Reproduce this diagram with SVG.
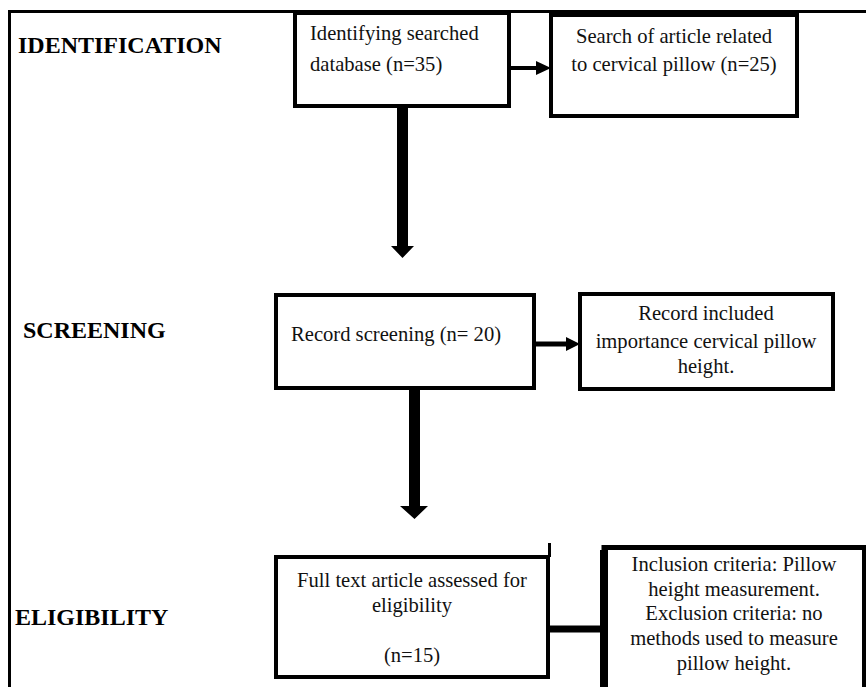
<svg xmlns="http://www.w3.org/2000/svg" width="866" height="687" viewBox="0 0 866 687">
<style>
.box{fill:#fff;stroke:#000;stroke-width:4}
.t{font-family:"Liberation Serif","Times New Roman",serif;font-size:20.6px;fill:#111}
.c{text-anchor:middle}
.h{font-family:"Liberation Serif","Times New Roman",serif;font-size:24px;font-weight:bold;fill:#000}
.ln{stroke:#000;fill:none}
</style>
<rect width="866" height="687" fill="#fff"/>
<path class="ln" d="M9.5,687 V11.5 H866" stroke-width="3"/>
<text class="h" x="18" y="53">IDENTIFICATION</text>
<text class="h" x="23" y="338">SCREENING</text>
<text class="h" x="15" y="625">ELIGIBILITY</text>
<g id="connectors">
<path d="M397,107 H408 V246 H414 L402.5,258 L391,246 H397 Z" fill="#000"/>
<path d="M409,388 H420 V506 H428 L414.5,519 L400,506 H409 Z" fill="#000"/>
<path class="ln" d="M509,68 H538" stroke-width="4"/>
<polygon points="536,61 551,68 536,75" fill="#000"/>
<path class="ln" d="M536,344 H568" stroke-width="5"/>
<polygon points="566,337 580,344 566,351" fill="#000"/>
<path class="ln" d="M548,629 H604" stroke-width="7"/>
<path class="ln" d="M549.5,543 V557" stroke-width="3"/>
</g>
<g id="n1">
<rect class="box" x="295" y="13" width="214" height="93"/>
<text class="t" x="310" y="40">Identifying searched</text>
<text class="t" x="310" y="71">database (n=35)</text>
</g>
<g id="n2">
<rect class="box" x="551" y="15" width="246" height="101"/>
<text class="t c" x="674" y="43">Search of article related</text>
<text class="t c" x="674" y="71">to cervical pillow (n=25)</text>
</g>
<g id="n3">
<rect class="box" x="276" y="295" width="258" height="93"/>
<text class="t" x="291" y="341">Record screening (n= 20)</text>
</g>
<g id="n4">
<rect class="box" x="580" y="294" width="253" height="95"/>
<text class="t c" x="706" y="320">Record included</text>
<text class="t c" x="706" y="348">importance cervical pillow</text>
<text class="t c" x="706" y="373">height.</text>
</g>
<g id="n5">
<rect class="box" x="276" y="557" width="272" height="120" stroke-width="5"/>
<text class="t c" x="412" y="587">Full text article assessed for</text>
<text class="t c" x="412" y="612">eligibility</text>
<text class="t c" x="412" y="662">(n=15)</text>
</g>
<g id="n6">
<path class="ln" d="M604,690 V547.5 H864.5 V690" stroke-width="5"/>
<path class="ln" d="M604,550 V690" stroke-width="8"/>
<text class="t c" x="734" y="571">Inclusion criteria: Pillow</text>
<text class="t c" x="734" y="596">height measurement.</text>
<text class="t c" x="734" y="620">Exclusion criteria: no</text>
<text class="t c" x="734" y="645">methods used to measure</text>
<text class="t c" x="734" y="670">pillow height.</text>
</g>
</svg>
